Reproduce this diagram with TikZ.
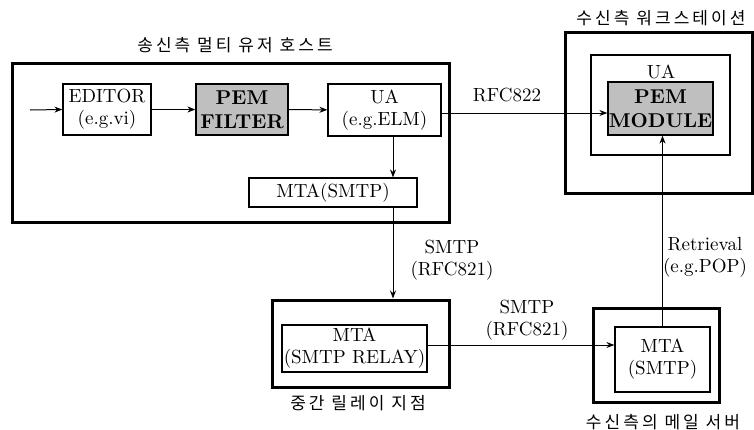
\documentclass[tikz,border=0pt]{standalone}
\usepackage{fontspec}
\newfontfamily\kor[LetterSpace=18]{Noto Sans CJK KR}
\usetikzlibrary{arrows.meta}

\tikzset{
  hostbox/.style={draw,line width=1.5pt,inner sep=0pt},
  unitbox/.style={draw,line width=0.6pt,align=center,inner sep=0pt},
  pembox/.style={unitbox,fill=gray!50,font=\bfseries},
  tag/.style={align=center,inner sep=0pt},
  ktag/.style={inner sep=0pt,font=\kor\fontsize{8.5}{10}\selectfont},
  flow/.style={line width=0.5pt,-{Stealth[length=4pt,width=3pt]}}
}

\begin{document}
\begin{tikzpicture}[x=0.5pt,y=-0.5pt,font=\fontsize{9.5}{11}\selectfont]
	\useasboundingbox (0,0) rectangle (754,429);
	% sending host
	\node[hostbox,minimum width=218.5pt,minimum height=79.5pt] (host) at (230.5,142.5) {};
	\node[ktag] (hosttitle) at (235,45) {송신측 멀티 유저 호스트};
	\node[unitbox,minimum width=44pt,minimum height=25.5pt] (editor) at (107,109.5) {EDITOR\\(e.g.vi)};
	\node[pembox,minimum width=46pt,minimum height=25.5pt] (pemfilter) at (242,109.5) {PEM\\FILTER};
	\node[unitbox,minimum width=56.5pt,minimum height=26pt] (uaelm) at (384.5,110) {UA\\(e.g.ELM)};
	\node[unitbox,minimum width=84pt,minimum height=14.5pt] (mtasend) at (333,192.5) {MTA(SMTP)};
	\coordinate (input) at (30,110);
	% receiving workstation
	\node[hostbox,minimum width=93.5pt,minimum height=80.5pt] (ws) at (658.5,112.5) {};
	\node[ktag] (wstitle) at (661,18) {수신측 워크스테이션};
	\node[unitbox,minimum width=69.5pt,minimum height=50pt] (uaws) at (660.5,105) {};
	\node[tag] (uawslabel) at (661,72) {UA};
	\node[pembox,minimum width=52.5pt,minimum height=26.5pt] (pemmodule) at (660.5,108.5) {PEM\\MODULE};
	% relay
	\node[hostbox,minimum width=88.5pt,minimum height=43.5pt] (relay) at (360.5,343.5) {};
	\node[unitbox,minimum width=72.5pt,minimum height=23.5pt] (mtarelay) at (354.5,348.5) {MTA\\(SMTP RELAY)};
	\node[ktag] (relaytitle) at (358,403) {중간 릴레이 지점};
	% mail server
	\node[hostbox,minimum width=63pt,minimum height=47pt] (server) at (656,355) {};
	\node[unitbox,minimum width=47.5pt,minimum height=32.5pt] (mtaserver) at (662.5,359.5) {MTA\\(SMTP)};
	\node[ktag] (servertitle) at (663,422) {수신측의 메일 서버};
	% connectors
	\draw[flow] (input) -- (editor.west);
	\draw[flow] (editor) -- (pemfilter);
	\draw[flow] (pemfilter) -- (uaelm);
	\draw[flow] ([xshift=4.25pt]uaelm.south) -- ([xshift=4.25pt]uaelm.south |- mtasend.north);
	\draw[flow] ([xshift=30pt]mtasend.south) -- ([xshift=30pt]mtasend.south |- relay.north);
	\draw[flow] ([yshift=-1.5pt]uaelm.east) -- ([yshift=-1.5pt]uaelm.east -| pemmodule.west);
	\draw[flow] ([yshift=1.75pt]mtarelay.east) -- ([yshift=1.75pt]mtarelay.east -| mtaserver.west);
	\draw[flow] (mtaserver.north) -- (mtaserver.north |- pemmodule.south);
	% labels
	\node[tag] (rfc822) at (507,95) {RFC822};
	\node[tag] (smtpdown) at (452,260) {SMTP\\(RFC821)};
	\node[tag] (smtpacross) at (527,320) {SMTP\\(RFC821)};
	\node[tag] (retrieval) at (705,257) {Retrieval\\(e.g.POP)};
\end{tikzpicture}
\end{document}
